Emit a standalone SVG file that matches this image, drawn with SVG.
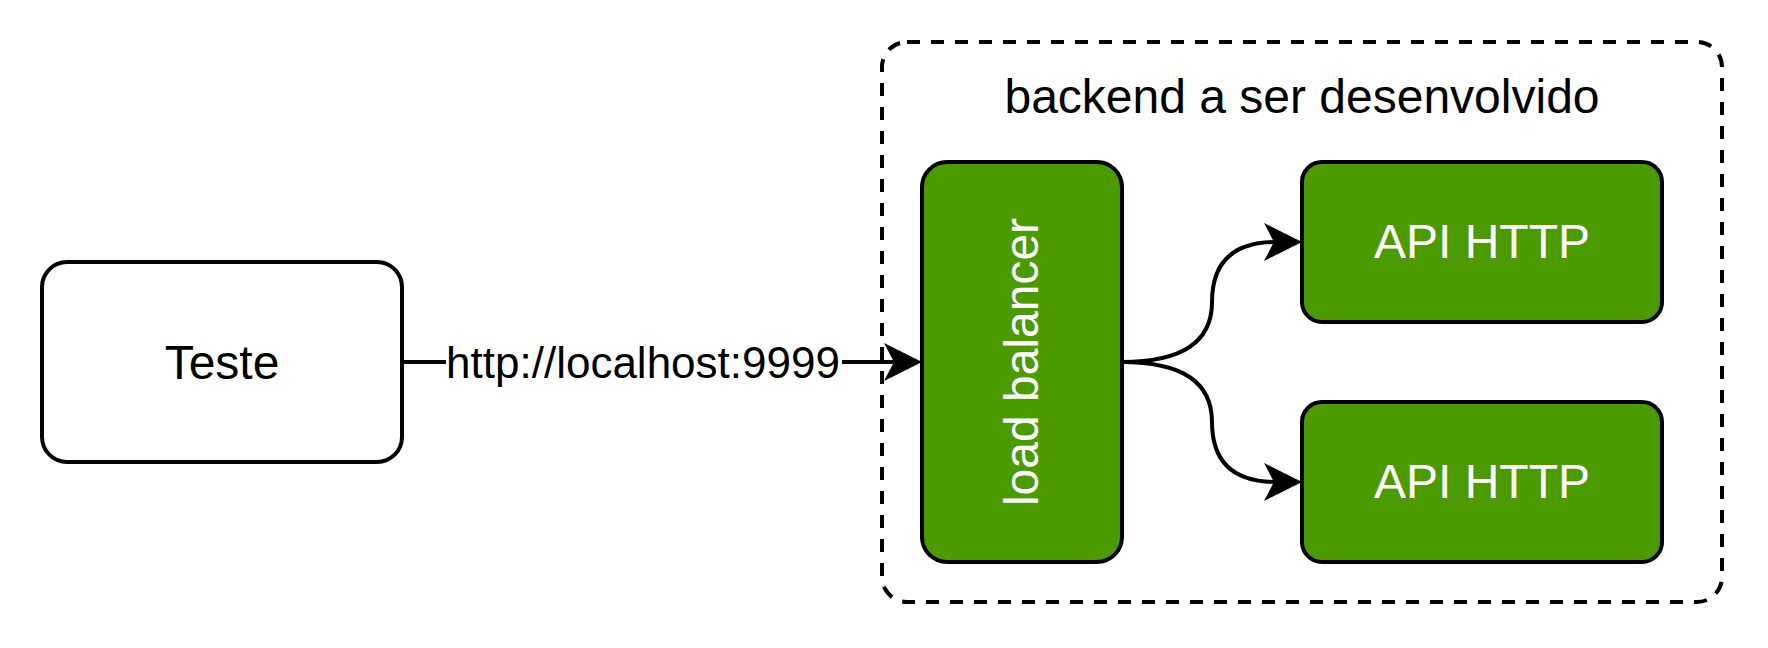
<svg xmlns="http://www.w3.org/2000/svg" width="1768" height="648" viewBox="0 0 1768 648">
  <style>
    .box { stroke: #000000; stroke-width: 4; }
    .white { fill: #ffffff; }
    .green { fill: #4D9900; }
    .edge { fill: none; stroke: #000000; stroke-width: 4; }
    .t { font-family: "Liberation Sans", Arial, sans-serif; text-anchor: middle; }
    .dark { fill: #000000; }
    .light { fill: #ffffff; }
  </style>
  <defs>
    <marker id="arrow" markerUnits="userSpaceOnUse" markerWidth="44" markerHeight="44" viewBox="-14 -22 44 44" refX="0" refY="0" orient="auto" overflow="visible">
      <path d="M26,0 L-12,-19 L-2,0 L-12,19 Z" fill="#000000" stroke="none"/>
    </marker>
  </defs>
  <rect width="1768" height="648" fill="#ffffff"/>

  <g id="container">
    <rect x="882" y="42" width="840" height="560" rx="25" ry="25" fill="none" stroke="#000000" stroke-width="4" stroke-dasharray="13 11"/>
    <text class="t dark" x="1302" y="113" font-size="48">backend a ser desenvolvido</text>
  </g>

  <g id="teste">
    <rect class="box white" x="42" y="262" width="360" height="200" rx="25" ry="25"/>
    <text class="t dark" x="222" y="379" font-size="48">Teste</text>
  </g>

  <g id="load-balancer">
    <rect class="box green" x="922" y="162" width="200" height="400" rx="25" ry="25"/>
    <text class="t light" font-size="48" transform="translate(1038,362) rotate(-90)" x="0" y="0">load balancer</text>
  </g>

  <g id="api-http-1">
    <rect class="box green" x="1302" y="162" width="360" height="160" rx="20" ry="20"/>
    <text class="t light" x="1482" y="258" font-size="48">API HTTP</text>
  </g>

  <g id="api-http-2">
    <rect class="box green" x="1302" y="402" width="360" height="160" rx="20" ry="20"/>
    <text class="t light" x="1482" y="498" font-size="48">API HTTP</text>
  </g>

  <g id="connectors">
    <path class="edge" d="M402,362 L896,362" marker-end="url(#arrow)"/>
    <rect x="446" y="338" width="396" height="50" fill="#ffffff"/>
    <text class="t dark" x="643" y="378" font-size="44">http://localhost:9999</text>
    <path class="edge" d="M1122,362 Q1212,362 1212,302 Q1212,242 1276,242" marker-end="url(#arrow)"/>
    <path class="edge" d="M1122,362 Q1212,362 1212,422 Q1212,482 1276,482" marker-end="url(#arrow)"/>
  </g>
</svg>
